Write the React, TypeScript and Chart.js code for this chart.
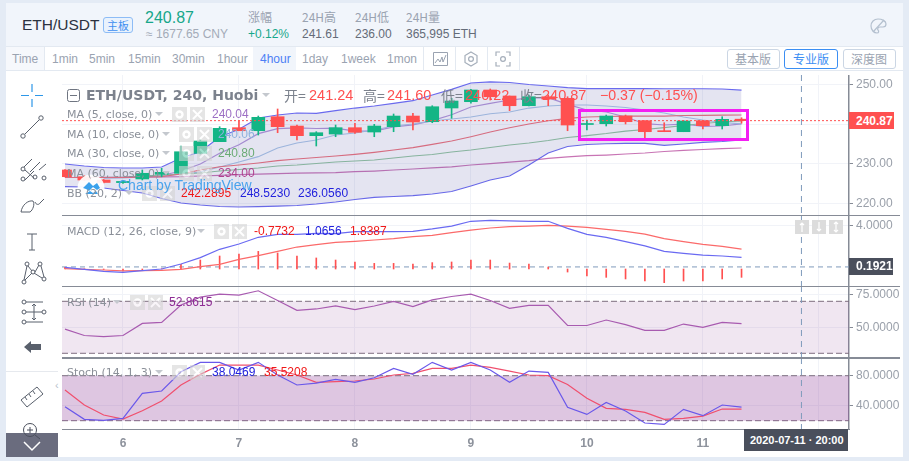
import { useEffect, useRef } from "react";
import { Chart, registerables } from "chart.js";

Chart.register(...registerables);
Chart.defaults.font.family = '"Liberation Sans", Arial, sans-serif';

// bar positions: 0 is the first bar of day 6, six 4h bars per day
const barIndex = [-3, -2, -1, 0, 1, 2, 3, 4, 5, 6, 7, 8, 9, 10, 11, 12, 13, 14, 15, 16, 17, 18, 19, 20, 21, 22, 23, 24, 25, 26, 27, 28, 29, 30, 31, 32];
const xMin = -3.155;
const xMax = 37.56;
const dayTicks = [0, 6, 12, 18, 24, 30, 36];
const dayLabels = ["6", "7", "8", "9", "10", "11", ""];
const crosshairBar = 35.1;

const opens = [228.47, 226.78, 225.95, 225.3, 226.21, 227.39, 227.64, 232.66, 235.58, 239.1, 238.34, 241.86, 239.52, 237.09, 237.51, 239.1, 238.01, 239.35, 242.03, 240.6, 244.05, 245.63, 248.57, 247.06, 244.62, 246.88, 246.48, 239.9, 240.1, 242.03, 240.85, 238.3, 238.09, 240.85, 239.6, 241.24];
const closes = [226.78, 225.95, 225.33, 225.6, 227.64, 227.89, 233.06, 235.75, 238.94, 238.34, 241.7, 239.35, 237.09, 237.84, 239.1, 237.94, 239.52, 242.03, 240.53, 244.37, 245.8, 248.57, 246.88, 244.62, 246.88, 246.3, 239.77, 240.05, 242.03, 240.6, 238.09, 238.1, 240.78, 239.6, 241.2, 240.87];
const highs = [228.6, 227.0, 226.1, 225.8, 228.47, 228.89, 234.5, 236.0, 239.35, 240.85, 242.03, 243.8, 239.77, 238.09, 239.77, 240.2, 239.95, 242.54, 242.71, 244.62, 246.48, 248.74, 248.82, 247.06, 247.31, 247.31, 246.88, 241.03, 242.28, 242.28, 240.85, 240.35, 240.85, 240.85, 241.86, 241.6];
const lows = [226.7, 225.8, 225.2, 225.1, 225.96, 226.78, 227.5, 232.5, 235.58, 238.34, 237.26, 237.84, 236.0, 234.5, 236.83, 237.69, 236.83, 238.09, 238.52, 240.35, 241.46, 245.23, 246.05, 243.37, 244.55, 244.62, 238.34, 238.52, 239.52, 240.03, 236.58, 238.09, 238.09, 238.77, 238.77, 240.22];

const ma5 = [null, null, 226.46, 226.58, 226.83, 227.08, 228.21, 229.97, 232.66, 234.8, 237.61, 238.87, 239.04, 238.89, 238.99, 238.26, 238.26, 239.32, 239.82, 240.88, 242.36, 244.3, 245.22, 246.05, 246.56, 246.66, 244.95, 243.54, 243.04, 241.78, 240.1, 239.77, 240.02, 239.45, 239.52, 240.04];
const ma10 = [null, null, 226.46, 226.46, 226.71, 226.96, 227.46, 227.96, 229.22, 230.48, 231.81, 233.99, 235.25, 236.0, 237.26, 237.76, 238.52, 239.52, 240.02, 240.78, 241.28, 241.78, 242.61, 243.04, 244.04, 244.55, 244.8, 244.8, 244.55, 244.17, 243.54, 242.79, 241.78, 241.03, 240.4, 240.06];
const ma30 = [null, null, 226.58, 226.71, 226.96, 227.21, 227.46, 227.71, 228.21, 228.59, 228.97, 229.47, 229.72, 230.1, 230.48, 230.73, 230.98, 231.48, 231.98, 232.36, 232.99, 233.49, 234.12, 234.75, 235.25, 235.88, 236.63, 237.13, 237.64, 238.26, 238.64, 239.14, 239.65, 240.15, 240.53, 240.8];
const ma60 = [null, null, 226.61, 226.63, 226.66, 226.71, 226.78, 226.96, 227.13, 227.29, 227.41, 227.54, 227.66, 227.76, 227.81, 228.04, 228.21, 228.47, 228.72, 229.02, 229.27, 229.72, 230.07, 230.43, 230.83, 231.38, 231.78, 232.06, 232.23, 232.49, 232.74, 233.12, 233.39, 233.62, 233.85, 234.0];
const bbBasis = [226.58, 226.58, 226.58, 226.58, 226.71, 226.78, 227.46, 228.47, 229.29, 229.72, 230.22, 230.8, 231.23, 231.61, 231.98, 232.41, 232.91, 233.49, 234.07, 234.92, 235.75, 236.83, 238.01, 239.09, 240.02, 240.85, 241.46, 241.78, 241.91, 242.03, 242.03, 242.03, 242.16, 242.2, 242.25, 242.29];
const bbUpper = [229.97, 229.47, 229.09, 228.97, 228.97, 229.22, 231.48, 233.06, 236.76, 238.69, 241.53, 242.29, 242.79, 242.7, 243.37, 244.04, 244.55, 245.22, 245.88, 247.31, 248.74, 250.33, 250.63, 250.45, 249.95, 249.57, 249.19, 248.94, 248.94, 248.94, 248.94, 248.89, 248.89, 248.89, 248.82, 248.52];
const bbLower = [224.27, 224.19, 223.94, 223.31, 222.69, 221.3, 220.17, 219.67, 219.29, 219.17, 219.24, 219.37, 219.55, 219.92, 220.43, 221.05, 221.61, 221.81, 222.01, 222.44, 223.06, 224.45, 225.95, 226.96, 229.72, 232.74, 234.37, 234.87, 235.07, 235.17, 235.17, 234.67, 235.0, 235.43, 235.63, 236.06];
const lastPrice = 240.87;

const macdLine = [0.15, -0.03, -0.22, -0.31, -0.15, 0, 0.46, 1.05, 1.82, 2.31, 2.93, 3.2, 3.2, 3.3, 3.27, 3.45, 3.45, 3.45, 3.48, 3.7, 3.97, 4.41, 4.5, 4.44, 4.41, 4.41, 3.76, 3.2, 2.93, 2.53, 2.13, 1.63, 1.45, 1.29, 1.2, 1.07];
const macdSignal = [0.03, -0.03, -0.09, -0.18, -0.15, -0.12, -0.03, 0.22, 0.43, 0.89, 1.23, 1.63, 2.03, 2.25, 2.46, 2.56, 2.68, 2.8, 2.99, 3.11, 3.36, 3.6, 3.79, 3.91, 3.97, 4.04, 3.97, 3.85, 3.67, 3.48, 3.23, 2.8, 2.53, 2.28, 2.09, 1.84];
const macdHist = [0.15, 0.02, -0.05, -0.18, -0.06, 0.03, 0.43, 0.83, 1.2, 1.39, 1.63, 1.48, 1.2, 1.02, 0.83, 0.65, 0.52, 0.52, 0.46, 0.59, 0.65, 0.83, 0.83, 0.55, 0.46, 0.18, -0.28, -0.65, -0.77, -0.92, -1.11, -1.26, -1.11, -1.11, -0.92, -0.77];
const macdLevel = 0.1921;

const rsi = [48.6, 43.7, 42.9, 43.7, 53, 53.8, 67.2, 73.2, 75.5, 74.7, 78.1, 70.6, 63.1, 64.1, 66.4, 63.6, 66.4, 70, 65.9, 71.1, 73.7, 75.5, 70.6, 64.6, 66.9, 66.9, 51.4, 51.4, 55.6, 52, 47.6, 47.6, 52.5, 49.9, 53.8, 52.86];
const stochK = [38.7, 21.8, 20.4, 23.1, 56.4, 59.6, 85.3, 97.8, 97.8, 87.6, 97.8, 80.9, 67.6, 70.2, 75.1, 71.1, 77.3, 89.8, 81.8, 97.8, 87.6, 97.8, 87.6, 71.1, 86.2, 84.4, 37.8, 28.4, 44.4, 32.9, 16.9, 15.1, 35.1, 26.7, 40.9, 38.05];
const stochD = [60.9, 40.9, 27.6, 22.2, 33.3, 46.2, 67.6, 81.8, 94.2, 94.2, 94.2, 87.6, 80.9, 71.1, 72, 72.9, 75.6, 80.9, 83.1, 89.8, 89.8, 94.2, 91.1, 86.2, 80.9, 80, 68.4, 49.8, 36.4, 35.1, 31.1, 21.8, 23.1, 26.2, 35.6, 35.52];

const RED = "#ff5050";
const GREEN = "#13b585";
const PURPLE = "#b294d8";
const LIGHTBLUE = "#a9c6e6";
const BBBLUE = "#6a6aee";
const AXIS = "#868b96";
const TICKTEXT = "#9aa0aa";
const GRID = "#f1f3f8";
const SANS = '"Liberation Sans", Arial, sans-serif';
const LEGEND = '"DejaVu Sans", sans-serif';
const CJK = '"Noto Sans CJK SC", sans-serif';

const pts = (values: (number | null)[]) => values.map((y, i) => ({ x: barIndex[i], y }));
const level = (y: number) => [{ x: xMin, y }, { x: xMax, y }];
const line = (data: any, color: string, extra: any = {}) => ({
  type: "line",
  data,
  borderColor: color,
  borderWidth: 1.2,
  pointRadius: 0,
  tension: 0,
  fill: false,
  order: 3,
  ...extra,
});

const candleColors = closes.map((c, i) => (c >= opens[i] ? GREEN : RED));

const mainDatasets = [
  line(pts(bbUpper), BBBLUE, { fill: "+1", backgroundColor: "rgba(92,92,170,0.17)" }),
  line(pts(bbLower), BBBLUE),
  line(pts(bbBasis), "#ee6f77"),
  line(pts(ma60), "#c874b4"),
  line(pts(ma30), "#90c59c"),
  line(pts(ma10), LIGHTBLUE),
  line(pts(ma5), PURPLE),
  {
    type: "bar",
    data: barIndex.map((x, i) => ({ x, y: [lows[i], highs[i]] })),
    backgroundColor: candleColors,
    barThickness: 1,
    grouped: false,
    order: 2,
  },
  {
    type: "bar",
    data: barIndex.map((x, i) => ({ x, y: [opens[i], closes[i]] })),
    backgroundColor: candleColors,
    barThickness: 13,
    minBarLength: 1,
    grouped: false,
    order: 1,
  },
  line(level(lastPrice), RED, { borderWidth: 1, borderDash: [2, 2], order: 0 }),
];

const macdDatasets = [
  line(level(macdLevel), "#7f9bbb", { borderWidth: 1, borderDash: [5, 4], order: 4 }),
  {
    type: "bar",
    data: pts(macdHist),
    backgroundColor: RED,
    barThickness: 1,
    grouped: false,
    order: 3,
  },
  line(pts(macdSignal), "#fb6a6a", { order: 2 }),
  line(pts(macdLine), "#6a6af2", { order: 1 }),
];

const band = (hi: number, lo: number, color: string) => [
  line(level(hi), "#7d6f7f", { borderWidth: 1, borderDash: [6, 3], fill: "+1", backgroundColor: color, order: 5 }),
  line(level(lo), "#7d6f7f", { borderWidth: 1, borderDash: [6, 3], order: 5 }),
];

const rsiDatasets = [...band(70, 30, "rgba(149,79,158,0.14)"), line(pts(rsi), "#a85bb0", { order: 1 })];
const stochDatasets = [
  ...band(80, 20, "rgba(142,60,150,0.29)"),
  line(pts(stochD), "#f0506e", { order: 2 }),
  line(pts(stochK), "#6a58ea", { order: 1 }),
];

const crosshair = {
  id: "crosshair",
  afterDatasetsDraw(chart: any) {
    const { ctx, chartArea, scales } = chart;
    const px = scales.x.getPixelForValue(crosshairBar);
    ctx.save();
    ctx.strokeStyle = "#7f9bbb";
    ctx.lineWidth = 1;
    ctx.setLineDash([6, 5]);
    ctx.beginPath();
    ctx.moveTo(px, chartArea.top);
    ctx.lineTo(px, chartArea.bottom);
    ctx.stroke();
    ctx.restore();
  },
};

const noPadding = (scale: any) => {
  scale.paddingTop = 0;
  scale.paddingBottom = 0;
  scale.paddingLeft = 0;
  scale.paddingRight = 0;
};

interface PaneProps {
  top: number;
  height: number;
  datasets: any[];
  yMin: number;
  yMax: number;
  yTicks: number[];
  gridTicks?: number[];
  decimals: number;
  showDays?: boolean;
}

const Pane = ({ top, height, datasets, yMin, yMax, yTicks, gridTicks, decimals, showDays }: PaneProps) => {
  const canvasRef = useRef<HTMLCanvasElement | null>(null);

  useEffect(() => {
    if (!canvasRef.current) return;
    const chart = new Chart(canvasRef.current, {
      type: "line",
      data: { datasets },
      plugins: [crosshair],
      options: {
        animation: false,
        responsive: false,
        layout: { padding: 0 },
        plugins: { legend: { display: false }, tooltip: { enabled: false } },
        scales: {
          x: {
            type: "linear",
            min: xMin,
            max: xMax,
            offset: false,
            border: { display: false },
            grid: { color: GRID, offset: false, drawTicks: false },
            ticks: {
              display: !!showDays,
              autoSkip: false,
              maxRotation: 0,
              padding: 7,
              color: "#8d929c",
              font: { size: 12, weight: "bold" },
              callback: (_v: any, i: number) => dayLabels[i],
            },
            afterBuildTicks: (s: any) => {
              s.ticks = dayTicks.map((value) => ({ value }));
            },
            afterFit: (s: any) => {
              s.height = showDays ? 28 : 0;
              noPadding(s);
            },
          },
          y: {
            type: "linear",
            position: "right",
            min: yMin,
            max: yMax,
            border: { color: AXIS, width: 1.5 },
            grid: { color: GRID, tickColor: AXIS, tickLength: 4 },
            ticks: {
              color: TICKTEXT,
              padding: 3,
              autoSkip: false,
              font: { size: 12 },
              callback: (v: any) => (yTicks.includes(v) ? Number(v).toFixed(decimals) : ""),
            },
            afterBuildTicks: (s: any) => {
              s.ticks = (gridTicks ?? yTicks).map((value) => ({ value }));
            },
            afterFit: (s: any) => {
              s.width = 54;
              noPadding(s);
            },
          },
        },
      },
    } as any);
    return () => chart.destroy();
  }, []);

  return (
    <canvas
      ref={canvasRef}
      width={841}
      height={height}
      style={{ position: "absolute", left: 62, top, width: 841, height }}
    />
  );
};

interface TxtProps {
  x: number;
  y: number;
  size?: number;
  color?: string;
  bold?: boolean;
  font?: string;
  spacing?: number;
  children: string;
}

const Txt = ({ x, y, size = 12, color = "#9aa3b1", bold, font = SANS, spacing, children }: TxtProps) => (
  <div
    style={{
      position: "absolute",
      left: x,
      top: y,
      transform: "translateY(-50%)",
      fontFamily: font,
      fontSize: size,
      fontWeight: bold ? 700 : 400,
      color,
      letterSpacing: spacing,
      lineHeight: 1,
      whiteSpace: "nowrap",
    }}
  >
    {children}
  </div>
);

const Rect = ({ x, y, w, h, bg, border, radius }: { x: number; y: number; w: number; h: number; bg?: string; border?: string; radius?: number }) => (
  <div
    style={{
      position: "absolute",
      left: x,
      top: y,
      width: w,
      height: h,
      background: bg,
      border,
      borderRadius: radius,
      boxSizing: "border-box",
    }}
  />
);

const Caret = ({ x, y }: { x: number; y: number }) => (
  <svg style={{ position: "absolute", left: x, top: y - 2 }} width={8} height={5}>
    <path d="M0 0h8L4 4z" fill="#c4c8ce" />
  </svg>
);

// gear and close buttons that follow each study title, the chart shows through them
const StudyButtons = ({ x, y }: { x: number; y: number }) => (
  <svg style={{ position: "absolute", left: x, top: y - 7, opacity: 0.6 }} width={33} height={15}>
    <rect x={0} y={0} width={15} height={15} fill="#d4d4d4" />
    <circle cx={7.5} cy={7.5} r={3} fill="none" stroke="#fff" strokeWidth={2.4} />
    <rect x={18} y={0} width={15} height={15} fill="#d4d4d4" />
    <path d="M21 3l9 9M30 3l-9 9" stroke="#fff" strokeWidth={2} />
  </svg>
);

const icon = { fill: "none", stroke: "#59606c", strokeWidth: 1 };

const ToolIcons = () => (
  <svg style={{ position: "absolute", left: 6, top: 75 }} width={52} height={382}>
    <path d="M26 9v8M26 24v8M15 20.500h8M29 20.500h8" fill="none" stroke="#2d97e8" strokeWidth={1.2} />
    <g {...icon}>
      <circle cx={17} cy={61} r={2.2} />
      <circle cx={35} cy={43} r={2.2} />
      <path d="M19 59l14-14" />
      <circle cx={17} cy={94} r={2} />
      <circle cx={17} cy={104} r={2} />
      <circle cx={29} cy={102} r={2} />
      <circle cx={38} cy={103} r={2} />
      <path d="M18 92l8-8M19 95l9 8M24 97l10-10M33 95l7-6M19 105l9-9" />
      <path d="M15 137c1-7 7-12 12-11 2 3 0 9-3 11zM29 127c1 3 4 3 5 1l4-4" />
      <path d="M21 159h10M26 159v16M23 175h6" />
      <circle cx={18} cy={207} r={2} />
      <circle cx={21} cy={189} r={2} />
      <circle cx={34} cy={189} r={2} />
      <circle cx={27} cy={197} r={2} />
      <circle cx={38} cy={204} r={2} />
      <path d="M18 205l3-14M22 191l4 5M29 197l4-7M35 191l3 11M19 205l7-7M28 198l8 5" />
      <circle cx={18} cy={227} r={2} />
      <circle cx={18} cy={237} r={2} />
      <circle cx={18} cy={247} r={2} />
      <circle cx={38} cy={237} r={2} />
      <path d="M20 227h17M20 237h16M20 247h17M28 229v16M26 231l2-2 2 2M26 243l2 2 2-2" />
      <path d="M15 325l16-13 6 7-16 13zM19 322l2 3M23 319l2 3M27 316l2 3" />
    </g>
    <g {...icon} stroke="#4a4f5c">
      <circle cx={24} cy={355} r={6.5} />
      <path d="M21 355h6M24 352v6M29 360l5 4" />
    </g>
    <path d="M18 272l7-6v3h10v6H25v3z" fill="#59606c" />
  </svg>
);

const PaletteIcon = () => (
  <svg style={{ position: "absolute", left: 869, top: 17 }} width={18} height={18} fill="none" stroke="#b4c0cf" strokeWidth={1.2}>
    <path d="M9 2c-4 0-7 3-7 7s3 7 6 7c2 0 2-2 1-3s0-3 2-3h3c2 0 3-1 3-3 0-3-4-5-8-5z" />
    <path d="M4 15L15 3" />
  </svg>
);

const BarIcon = () => (
  <svg style={{ position: "absolute", left: 432, top: 51 }} width={17} height={16} fill="none" stroke="#9aa3b1" strokeWidth={1}>
    <path d="M1.500 1.500h14v13h-14zM3 12l3-4 2 3 2-5 1 5 3-7" />
  </svg>
);

const HexIcon = () => (
  <svg style={{ position: "absolute", left: 463, top: 51 }} width={16} height={16} fill="none" stroke="#a5aeba" strokeWidth={1.2}>
    <path d="M8 1l6 3.500v7L8 15l-6-3.500v-7z" />
    <circle cx={8} cy={8} r={2.4} />
  </svg>
);

const ShotIcon = () => (
  <svg style={{ position: "absolute", left: 495, top: 51 }} width={16} height={16} fill="none" stroke="#a5aeba" strokeWidth={1.2}>
    <path d="M1 5V1h4M11 1h4v4M15 11v4h-4M5 15H1v-4" />
    <circle cx={8} cy={8} r={2.4} />
  </svg>
);

const ScaleButtons = () => (
  <svg style={{ position: "absolute", left: 795, top: 220 }} width={48} height={14}>
    <rect x={0} width={14} height={14} fill="#dcdcdc" />
    <rect x={17} width={14} height={14} fill="#dcdcdc" />
    <rect x={34} width={14} height={14} fill="#dcdcdc" />
    <path d="M7 3v9M5 5l2-2 2 2M24 2v9M22 9l2 2 2-2M41 2v10M39 4l2-2 2 2M39 10l2 2 2-2" fill="none" stroke="#fff" strokeWidth={1.2} />
  </svg>
);

const Logo = () => (
  <svg style={{ position: "absolute", left: 77, top: 174 }} width={28} height={28}>
    <circle cx={14} cy={14} r={13.500} fill="rgba(255,255,255,0.92)" />
    <path d="M6 14l6-6 4 4 4-3 3 5-3 2-4-3-4 4-3-2z" fill="#3ba1ec" />
    <path d="M8 20l5-3 3 2 3-2 2 3H8z" fill="#3ba1ec" />
  </svg>
);

const periods = [
  { label: "1min", x: 52 },
  { label: "5min", x: 89 },
  { label: "15min", x: 128 },
  { label: "30min", x: 172 },
  { label: "1hour", x: 217 },
  { label: "1day", x: 302 },
  { label: "1week", x: 341 },
  { label: "1mon", x: 387 },
];

const stats = [
  { title: "24H高", value: "241.61", x: 302 },
  { title: "24H低", value: "236.00", x: 355 },
  { title: "24H量", value: "365,995 ETH", x: 406 },
];

const App = () => (
  <div style={{ position: "fixed", left: 0, top: 0, width: 909, height: 461, overflow: "hidden", background: "#e4ebf5" }}>
    <Rect x={6} y={3} w={897} h={454} bg="#fff" />
    <Rect x={6} y={3} w={897} h={43} bg="#f1f5fb" />
    <Rect x={6} y={46} w={897} h={1} bg="#e3e9f1" />
    <Rect x={6} y={70} w={897} h={1} bg="#e3e9f1" />

    <Pane top={75} height={140} datasets={mainDatasets} yMin={217.16} yMax={252.34} yTicks={[250, 230, 220]} gridTicks={[250, 240, 230, 220]} decimals={2} />
    <Pane top={215} height={71} datasets={macdDatasets} yMin={-1.57} yMax={4.99} yTicks={[4]} decimals={4} />
    <Pane top={286} height={72} datasets={rsiDatasets} yMin={26.38} yMax={81.77} yTicks={[75, 50]} decimals={4} />
    <Pane top={358} height={99} datasets={stochDatasets} yMin={8.93} yMax={103.6} yTicks={[80, 40]} decimals={4} showDays />

    <Rect x={62} y={214.500} w={838} h={1.5} bg={AXIS} />
    <Rect x={62} y={285.500} w={838} h={1.5} bg={AXIS} />
    <Rect x={62} y={357} w={838} h={1.5} bg={AXIS} />
    <Rect x={62} y={428.500} w={788} h={1.5} bg={AXIS} />

    <Rect x={578} y={109} w={171} h={31.5} border="3px solid #f31ff3" />

    {/* header */}
    <Txt x={22} y={25} size={15.5} color="#2b3240">ETH/USDT</Txt>
    <Rect x={103} y={17} w={30} h={16} bg="#e9f2fd" border="1px solid #8dbcf6" radius={3} />
    <Txt x={107} y={25} size={11} color="#3f8ff0" font={CJK}>主板</Txt>
    <Txt x={145} y={18} size={16} color="#17a78a">240.87</Txt>
    <Txt x={146} y={34} size={12} color="#a3abb8">≈ 1677.65 CNY</Txt>
    <Txt x={248} y={17} size={12} font={CJK}>涨幅</Txt>
    <Txt x={248} y={34} size={12} color="#17a78a">+0.12%</Txt>
    {stats.map((s) => (
      <div key={s.title}>
        <Txt x={s.x} y={17} size={12} font={CJK}>{s.title}</Txt>
        <Txt x={s.x} y={34} size={12} color="#646b78">{s.value}</Txt>
      </div>
    ))}
    <PaletteIcon />

    {/* period bar */}
    <Rect x={6} y={47} w={38} h={23} bg="#f6f8fc" />
    <Rect x={44} y={47} w={1} h={23} bg="#e3e9f1" />
    <Txt x={12} y={59}>Time</Txt>
    {periods.map((p) => (
      <Txt key={p.label} x={p.x} y={59}>{p.label}</Txt>
    ))}
    <Rect x={253} y={47} w={43} h={23} bg="#f1f5fb" />
    <Txt x={260} y={59} color="#4d7ff5">4hour</Txt>
    <Rect x={423} y={47} w={1} h={23} bg="#e3e9f1" />
    <BarIcon />
    <Rect x={455} y={47} w={1} h={23} bg="#e3e9f1" />
    <HexIcon />
    <Rect x={487} y={47} w={1} h={23} bg="#e3e9f1" />
    <ShotIcon />
    <Rect x={519} y={47} w={1} h={23} bg="#e3e9f1" />
    <Rect x={727} y={49} w={53} h={20} border="1px solid #cbd6e4" radius={3} />
    <Txt x={735} y={59} font={CJK}>基本版</Txt>
    <Rect x={784} y={49} w={54} h={20} border="1px solid #3b8ef3" radius={3} />
    <Txt x={793} y={59} color="#3b8ef3" font={CJK}>专业版</Txt>
    <Rect x={843} y={49} w={53} h={20} border="1px solid #cbd6e4" radius={3} />
    <Txt x={851} y={59} font={CJK}>深度图</Txt>

    {/* tool bar */}
    <Rect x={6} y={371} w={52} h={1} bg="#e6e9ee" />
    <Txt x={55} y={385} size={11} color="#b8c2cc">‹</Txt>
    <Rect x={6} y={433} w={52} h={24} bg="#6a6c7e" />
    <svg style={{ position: "absolute", left: 22, top: 440 }} width={20} height={12}>
      <path d="M2 2l8 8 8-8" fill="none" stroke="#fff" strokeWidth={1.5} />
    </svg>
    <ToolIcons />

    <Logo />

    {/* main legend */}
    <svg style={{ position: "absolute", left: 67, top: 88 }} width={13} height={14} fill="none" stroke="#6f7581">
      <rect x={0.5} y={1.5} width={12} height={12} rx={2} />
      <path d="M3 7.500h7" />
    </svg>
    <Txt x={86} y={95} size={14} color="#7c828d" bold font={LEGEND}>ETH/USDT, 240, Huobi</Txt>
    <Caret x={262} y={95} />
    <Txt x={284} y={95} size={14} color="#7c828d" font={CJK}>开=</Txt>
    <Txt x={309} y={95} size={14.500} color={RED}>241.24</Txt>
    <Txt x={363} y={95} size={14} color="#7c828d" font={CJK}>高=</Txt>
    <Txt x={387} y={95} size={14.500} color={RED}>241.60</Txt>
    <Txt x={441} y={95} size={14} color="#7c828d" font={CJK}>低=</Txt>
    <Txt x={465} y={95} size={14.500} color={RED}>240.22</Txt>
    <Txt x={520} y={95} size={14} color="#7c828d" font={CJK}>收=</Txt>
    <Txt x={542} y={95} size={14.500} color={RED}>240.87</Txt>
    <Txt x={600} y={95} size={14.200} color={RED}>−0.37 (−0.15%)</Txt>

    <Txt x={67} y={114} size={11} color="#8b9099" font={LEGEND}>MA (5, close, 0)</Txt>
    <Caret x={155} y={114} />
    <StudyButtons x={172} y={114} />
    <Txt x={212} y={114} color="#9c6fc4">240.04</Txt>

    <Txt x={67} y={134} size={11} color="#8b9099" font={LEGEND}>MA (10, close, 0)</Txt>
    <Caret x={162} y={134} />
    <StudyButtons x={179} y={134} />
    <Txt x={218} y={134} color="#8db2dd">240.06</Txt>

    <Txt x={67} y={153} size={11} color="#8b9099" font={LEGEND}>MA (30, close, 0)</Txt>
    <Caret x={162} y={153} />
    <StudyButtons x={179} y={153} />
    <Txt x={218} y={153} color="#6bab76">240.80</Txt>

    <Txt x={67} y={173} size={11} color="#8b9099" font={LEGEND}>MA (60, close, 0)</Txt>
    <Caret x={162} y={173} />
    <StudyButtons x={179} y={173} />
    <Txt x={218} y={173} color="#b0408e">234.00</Txt>

    <Txt x={67} y={193} size={11} color="#8b9099" font={LEGEND}>BB (20, 2)</Txt>
    <Caret x={125} y={193} />
    <StudyButtons x={142} y={193} />
    <Txt x={181} y={193} color="#f01818">242.2895</Txt>
    <Txt x={240} y={193} color="#2222dd">248.5230</Txt>
    <Txt x={298} y={193} color="#2222dd">236.0560</Txt>

    <Txt x={118} y={185} size={14} color="#4aa3ec">Chart by TradingView</Txt>

    {/* study legends */}
    <Txt x={67} y={231} size={11} color="#8b9099" font={LEGEND}>MACD (12, 26, close, 9)</Txt>
    <Caret x={197} y={231} />
    <StudyButtons x={214} y={231} />
    <Txt x={254} y={231} color="#f01818">-0.7732</Txt>
    <Txt x={305} y={231} color="#2222dd">1.0656</Txt>
    <Txt x={350} y={231} color="#f01818">1.8387</Txt>
    <ScaleButtons />

    <Txt x={67} y={302} size={11} color="#8b9099" font={LEGEND}>RSI (14)</Txt>
    <Caret x={113} y={302} />
    <StudyButtons x={130} y={302} />
    <Txt x={169} y={302} color="#8e2b95">52.8615</Txt>

    <Txt x={67} y={372} size={11} color="#8b9099" font={LEGEND}>Stoch (14, 1, 3)</Txt>
    <Caret x={155} y={372} />
    <StudyButtons x={172} y={372} />
    <Txt x={212} y={372} color="#2222dd">38.0469</Txt>
    <Txt x={264} y={372} color="#f01818">35.5208</Txt>

    {/* axis tags */}
    <Rect x={849} y={112} w={45} h={17} bg={RED} />
    <Txt x={856} y={121} color="#fff" bold>240.87</Txt>
    <Rect x={849} y={258} w={44} h={17} bg="#4a4f5c" />
    <Txt x={856} y={266} color="#fff" bold>0.1921</Txt>
    <Rect x={744} y={429} w={104} h={22} bg="#4a4f5c" />
    <Txt x={750} y={440} size={11} color="#fff" bold>2020-07-11 · 20:00</Txt>
  </div>
);

export default App;
